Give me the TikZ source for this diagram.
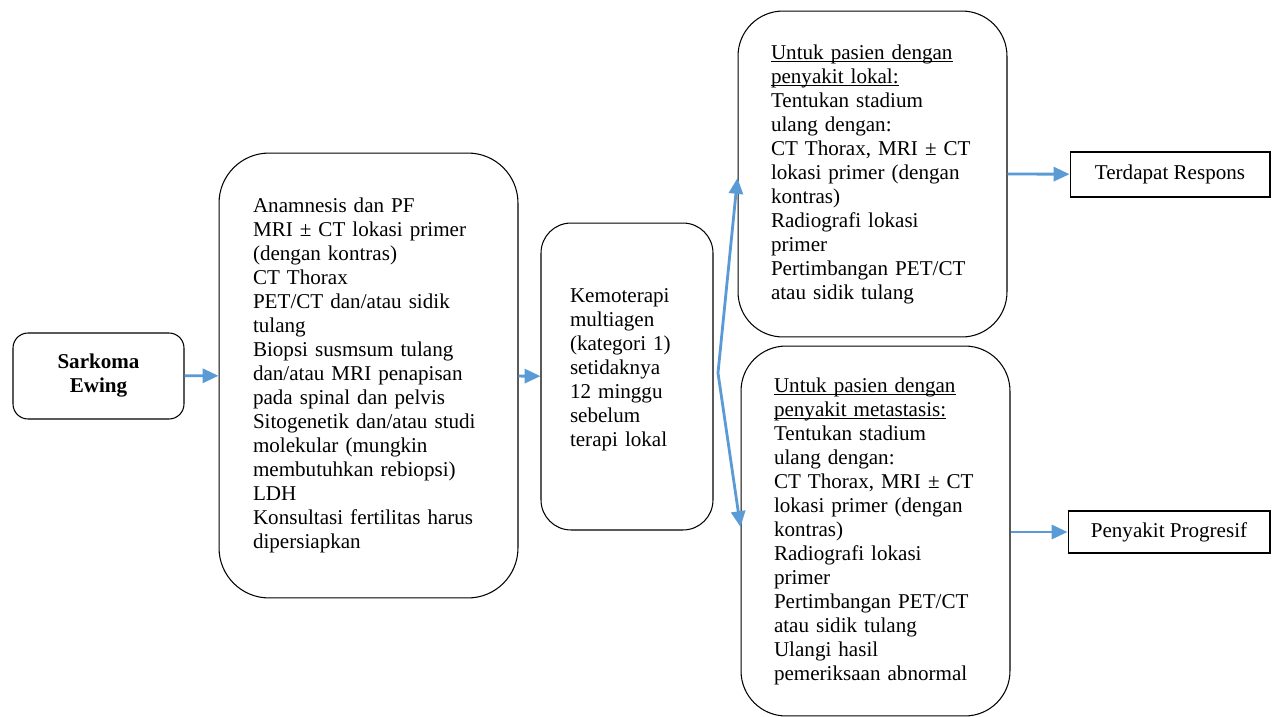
\documentclass[tikz,border=0pt]{standalone}
\usepackage{fontspec}
\setmainfont{Liberation Serif}
\usetikzlibrary{arrows.meta}
\definecolor{arrowblue}{RGB}{91,155,213}
\newcommand{\ulbox}[1]{\leavevmode\setbox0\hbox{#1}\rlap{\rule[-1.8pt]{\wd0}{0.55pt}}\box0}

\begin{document}
\begin{tikzpicture}[x=0.02cm, y=-0.02cm,
  every node/.style={font=\fontsize{12}{13.66}\selectfont},
  box/.style={draw, line width=0.6pt, rounded corners=#1, align=left, inner ysep=0pt},
  result/.style={draw, line width=0.6pt, inner sep=0pt, align=center},
  link/.style={draw=arrowblue, line width=1.6pt, -{Triangle[length=9pt,width=8pt]}}]
  \useasboundingbox (0,0) rectangle (1272,717);

  % Nodes
  \node[box=0.3cm, align=center, minimum width=3.42cm, minimum height=1.72cm] (sark) at (98.5,376)
    {\textbf{Sarkoma}\\\textbf{Ewing}};
  \node[box=1cm, inner xsep=0.68cm, text width=4.62cm, minimum height=8.9cm] (exam) at (368.5,375.5)
    {Anamnesis dan PF\\
     MRI ± CT lokasi primer\\
     (dengan kontras)\\
     CT Thorax\\
     PET/CT dan/atau sidik\\
     tulang\\
     Biopsi susmsum tulang\\
     dan/atau MRI penapisan\\
     pada spinal dan pelvis\\
     Sitogenetik dan/atau studi\\
     molekular (mungkin\\
     membutuhkan rebiopsi)\\
     LDH\\
     Konsultasi fertilitas harus\\
     dipersiapkan};
  \node[box=0.6cm, inner xsep=0.58cm, text width=2.28cm, minimum height=6.14cm] (chemo) at (627,376.5)
    {Kemoterapi\\
     multiagen\\
     (kategori 1)\\
     setidaknya\\
     12 minggu\\
     sebelum\\
     terapi lokal\\[-3.4pt]
     \mbox{}};
  \node[box=0.9cm, inner xsep=0.66cm, text width=4.06cm, minimum height=6.52cm] (lokal) at (872.5,174)
    {\ulbox{Untuk pasien dengan}\\
     \ulbox{penyakit lokal:}\\
     Tentukan stadium\\
     ulang dengan:\\
     CT Thorax, MRI ± CT\\
     lokasi primer (dengan\\
     kontras)\\
     Radiografi lokasi\\
     primer\\
     Pertimbangan PET/CT\\
     atau sidik tulang};
  \node[box=0.9cm, inner xsep=0.66cm, text width=4.06cm, minimum height=7.4cm] (meta) at (875.5,531)
    {\ulbox{Untuk pasien dengan}\\
     \ulbox{penyakit metastasis:}\\
     Tentukan stadium\\
     ulang dengan:\\
     CT Thorax, MRI ± CT\\
     lokasi primer (dengan\\
     kontras)\\
     Radiografi lokasi\\
     primer\\
     Pertimbangan PET/CT\\
     atau sidik tulang\\
     Ulangi hasil\\
     pemeriksaan abnormal};
  \node[result, minimum width=4cm, minimum height=0.9cm] (resp) at (1170,174.5) {Terdapat Respons};
  \node[result, minimum width=4.04cm, minimum height=0.84cm] (prog) at (1169,532) {Penyakit Progresif};
  \coordinate (split) at (718,373);

  % Edges
  \draw[link] (sark) -- (exam);
  \draw[link] (exam) -- (chemo);
  \draw[link] (split) -- (lokal.west |- 0,178);
  \draw[link] (split) -- (meta.west |- 0,527);
  \draw[link] (lokal.east) -- (resp);
  \draw[link] (meta.east |- prog) -- (prog);
\end{tikzpicture}
\end{document}
